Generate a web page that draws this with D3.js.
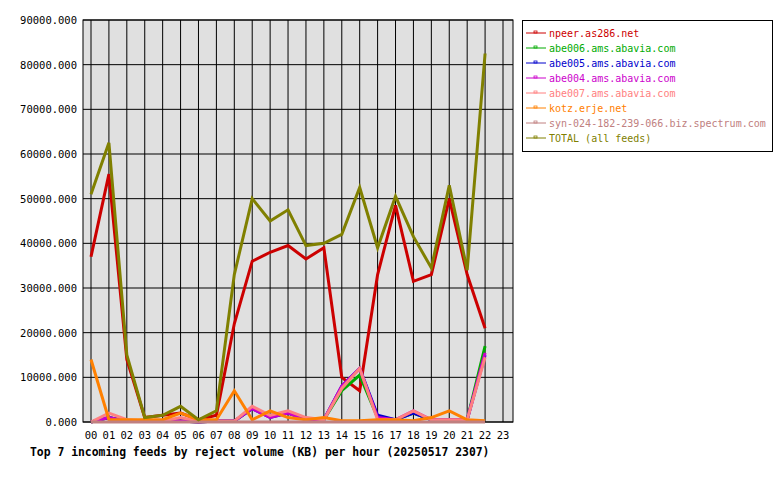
<!DOCTYPE html><html><head><script src="https://cdn.jsdelivr.net/npm/d3@7"></script>
<style>body{margin:0;background:#fff}text{font-family:"DejaVu Sans Mono",monospace;font-size:10.5px}</style></head><body><svg id="c" width="780" height="480"></svg>
<script>
const hours=["00","01","02","03","04","05","06","07","08","09","10","11","12","13","14","15","16","17","18","19","20","21","22","23"];
const yTicks=[0,10000,20000,30000,40000,50000,60000,70000,80000,90000];
const names=["npeer.as286.net","abe006.ams.abavia.com","abe005.ams.abavia.com","abe004.ams.abavia.com","abe007.ams.abavia.com","kotz.erje.net","syn-024-182-239-066.biz.spectrum.com","TOTAL (all feeds)"];
const colors=["#cc0000","#00aa00","#0000cc","#cc00cc","#ff8080","#ff8000","#c08080","#808000"];
const npeer=[37,55.5,14,1,1.5,2,0.5,1.5,22,36,38,39.5,36.5,39,10,7,33,48.5,31.5,33,50,33,21];
const abe006=[0,1,0.2,0.2,0.2,0.2,0,0.2,0.2,3,1.5,2,0.5,0.5,7,10.5,1,0.5,2,0.5,0.5,0.5,17];
const abe005=[0,1,0.2,0.2,0.2,0.2,0,0.2,0.2,3,1,2,0.8,0.5,8,12,1.5,0.5,2,0.5,0.5,0.5,15];
const abe004=[0,1,0.2,0.2,0.2,0.2,0,0.2,0.2,3,1,2,0.5,0.5,8,12,1,0.5,2.5,0.5,0.5,0.5,15.5];
const abe007=[0,2,0.5,0.2,0.2,1,0.2,0.2,0.2,3.5,1.5,2.5,1,0.5,7.5,12,0.5,0.5,2.5,0.5,0.5,0.5,14.5];
const kotz=[14,0.5,0.5,0.5,0.5,2,0.5,0.5,7,0.5,2.5,1,0.5,1,0.3,0.3,0.5,0.5,0.3,1,2.5,0.5,0.3];
const syn=[0,0,0,0,0,0,0,0,0,0,0,0,0,0,0,0,0,0,0,0,0,0,0];
const total=[51,62.5,15,1,1.5,3.5,0.5,2.5,33,50,45,47.5,39.5,40,42,52.5,39,50.5,41.5,34.5,53,34,82.5];
const series=[npeer,abe006,abe005,abe004,abe007,kotz,syn,total];
const svg=d3.select("#c");
const L=83,R=513,T=20,B=422;
const x=d3.scalePoint().domain(hours).range([91,503]);
const y=d3.scaleLinear().domain([0,90000]).range([B,T]);
svg.append("rect").attr("x",L).attr("y",T).attr("width",R-L).attr("height",B-T).attr("fill","#e0e0e0").attr("stroke","#000");
hours.forEach(h=>svg.append("line").attr("x1",x(h)).attr("x2",x(h)).attr("y1",T).attr("y2",B).attr("stroke","#000"));
yTicks.forEach(v=>{svg.append("line").attr("x1",L).attr("x2",R).attr("y1",y(v)).attr("y2",y(v)).attr("stroke","#000");
svg.append("text").attr("x",L-6).attr("y",y(v)+4).attr("text-anchor","end").text(v.toFixed(3));});
hours.forEach(h=>svg.append("text").attr("x",x(h)).attr("y",439).attr("text-anchor","middle").text(h));
const line=d3.line().x((d,i)=>x(hours[i])).y(d=>y(d*1000));
series.forEach((s,i)=>svg.append("path").attr("d",line(s)).attr("fill","none").attr("stroke",colors[i]).attr("stroke-width",3));
svg.append("text").attr("x",30).attr("y",456).style("font-weight","bold").style("font-size","11.4px").text("Top 7 incoming feeds by reject volume (KB) per hour (20250517 2307)");
svg.append("rect").attr("x",522.5).attr("y",20.5).attr("width",250).attr("height",131).attr("fill","#fff").attr("stroke","#000");
names.forEach((n,i)=>{const yy=33+i*15;
svg.append("line").attr("x1",526).attr("x2",546).attr("y1",yy).attr("y2",yy).attr("stroke",colors[i]);
svg.append("rect").attr("x",534).attr("y",yy-2).attr("width",3).attr("height",2).attr("fill","none").attr("stroke",colors[i]).attr("stroke-width",0.8);
svg.append("text").attr("x",549).attr("y",yy+4).attr("fill",colors[i]).style("font-size","10px").text(n);});
</script></body></html>
